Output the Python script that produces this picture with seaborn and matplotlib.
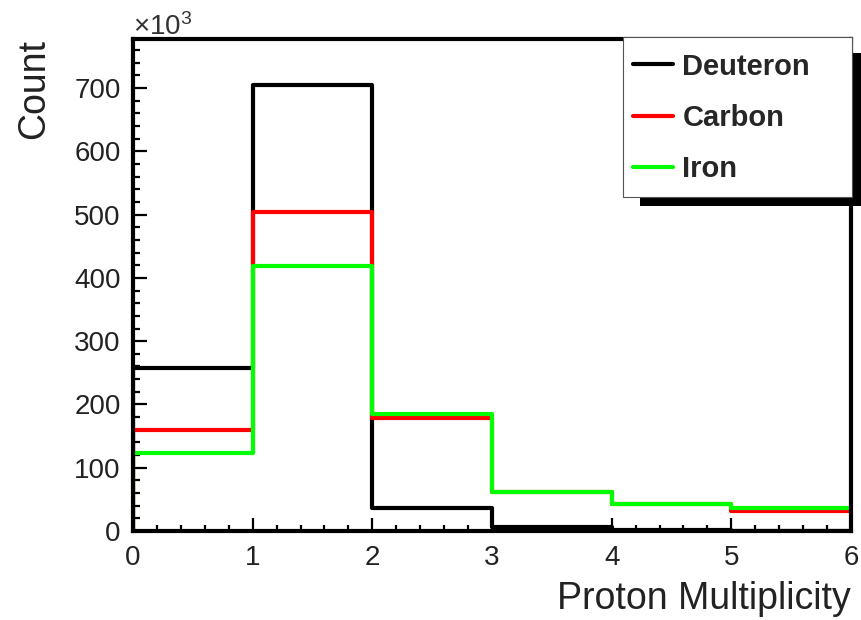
import numpy as np
import pandas as pd
import matplotlib
matplotlib.use("Agg")
import matplotlib.pyplot as plt
from matplotlib.patches import Rectangle
from matplotlib.lines import Line2D
from matplotlib.ticker import MultipleLocator, FixedLocator
import seaborn as sns

# Proton multiplicity bins (edges) and counts per bin, in units of 10^3
bin_edges = [0, 1, 2, 3, 4, 5, 6]
targets = ["Deuteron", "Carbon", "Iron"]
deuteron = [258, 705, 37, 6, 1, 0.3]
carbon = [160, 504, 178, 61, 42, 31]
iron = [123, 418, 185, 62, 43, 36]
colors = ["#000000", "#ff0000", "#00ff00"]
x_ticks = [0, 1, 2, 3, 4, 5, 6]
y_ticks = [0, 100, 200, 300, 400, 500, 600, 700]

sns.set_theme(style="ticks")
plt.rcParams["font.family"] = ["Liberation Sans", "DejaVu Sans"]
plt.rcParams["mathtext.fontset"] = "custom"
plt.rcParams["mathtext.rm"] = "Liberation Sans"
plt.rcParams["mathtext.it"] = "Liberation Sans:italic"
plt.rcParams["mathtext.bf"] = "Liberation Sans:bold"

# Build step outlines: start at the baseline, rise to the first bin, step through bins
rows = []
for name, counts in zip(targets, [deuteron, carbon, iron]):
    xs = [bin_edges[0]] + bin_edges[:-1] + [bin_edges[-1]]
    ys = [0] + list(counts) + [counts[-1]]
    for x, y in zip(xs, ys):
        rows.append({"mult": x, "count": y, "target": name})
df = pd.DataFrame(rows)

W, H = 861, 620
fig = plt.figure(figsize=(W / 100, H / 100), dpi=100)
ax = fig.add_axes([133 / W, 1 - 531 / H, (851 - 133) / W, (531 - 39) / H])

sns.lineplot(data=df, x="mult", y="count", hue="target", hue_order=targets,
             palette=colors, estimator=None, sort=False, drawstyle="steps-post",
             linewidth=3, legend=False, ax=ax)

ax.set_xlim(0, 6)
ax.set_ylim(0, 777.5)
ax.xaxis.set_major_locator(FixedLocator(x_ticks))
ax.yaxis.set_major_locator(FixedLocator(y_ticks))
ax.xaxis.set_minor_locator(MultipleLocator(0.2))
ax.yaxis.set_minor_locator(MultipleLocator(20))
ax.set_xticklabels([str(t) for t in x_ticks])
ax.set_yticklabels([str(t) for t in y_ticks])

for sp in ax.spines.values():
    sp.set_visible(True)
    sp.set_linewidth(3)
    sp.set_color("black")

ax.tick_params(which="both", direction="in", top=False, right=False,
               colors="black", width=1.6, labelsize=20, labelcolor="#222222")
ax.tick_params(axis="x", which="major", length=9.5, pad=10)
ax.tick_params(axis="x", which="minor", length=4.5)
ax.tick_params(axis="y", which="major", length=10, pad=9)
ax.tick_params(axis="y", which="minor", length=5)

ax.set_xlabel("Proton Multiplicity", fontsize=27, loc="right", labelpad=7,
              color="#222222")
ax.set_ylabel("Count", fontsize=27, loc="top", labelpad=16, color="#222222")

ax.text(0.0, 0.995, r"$\times10^{3}$", transform=ax.transAxes, ha="left",
        va="bottom", fontsize=20, color="#333333")

# Legend box with a solid drop shadow
shadow = Rectangle((640 / W, 1 - 206 / H), 240 / W, (206 - 53) / H,
                   transform=fig.transFigure, facecolor="black",
                   edgecolor="none", zorder=3)
box = Rectangle((623 / W, 1 - 197 / H), (852 - 623) / W, (197 - 37) / H,
                transform=fig.transFigure, facecolor="white",
                edgecolor="#555555", linewidth=0.8, zorder=4)
fig.add_artist(shadow)
fig.add_artist(box)

handles = [Line2D([], [], color=c, linewidth=3) for c in colors]
leg = fig.legend(handles, targets, loc="center left",
                 bbox_to_anchor=(633 / W, 1 - 118 / H), frameon=False,
                 prop={"weight": "bold", "size": 21}, handlelength=1.38,
                 handletextpad=0.31, labelspacing=0.8, borderpad=0,
                 borderaxespad=0)
leg.set_zorder(5)

fig.savefig("out.png", dpi=100)
